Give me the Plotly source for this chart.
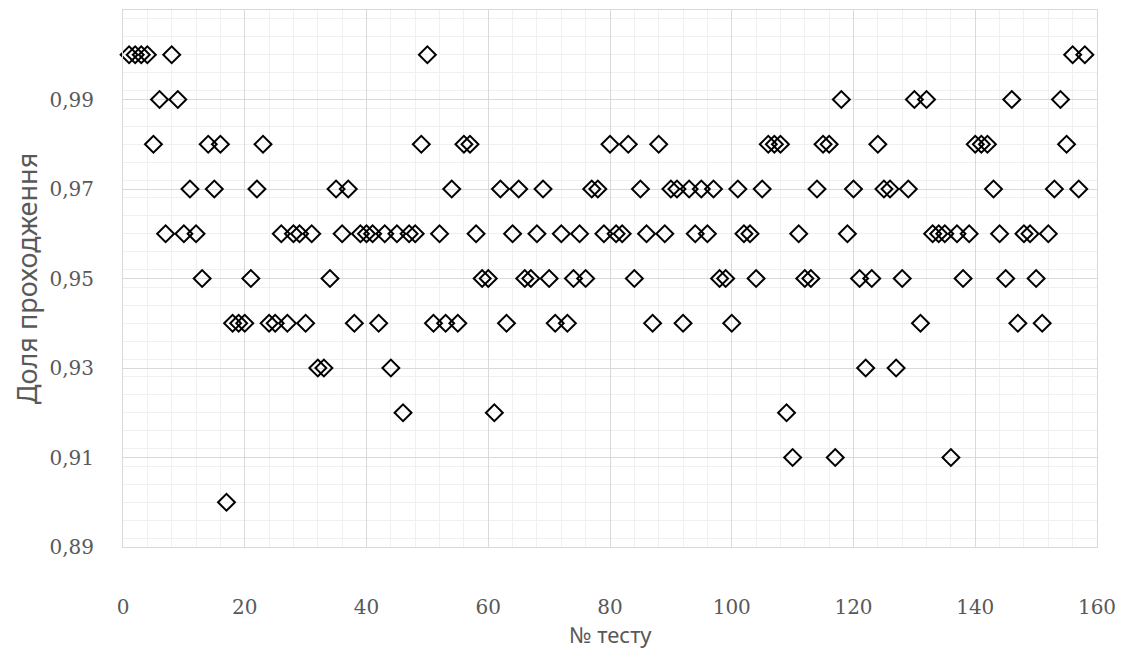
import plotly.graph_objects as go

# Test numbers
test_no = list(range(1, 159))

# Pass share per test
pass_share = [
    1.00, 1.00, 1.00, 1.00, 0.98, 0.99, 0.96, 1.00, 0.99, 0.96,   # 1-10
    0.97, 0.96, 0.95, 0.98, 0.97, 0.98, 0.90, 0.94, 0.94, 0.94,   # 11-20
    0.95, 0.97, 0.98, 0.94, 0.94, 0.96, 0.94, 0.96, 0.96, 0.94,   # 21-30
    0.96, 0.93, 0.93, 0.95, 0.97, 0.96, 0.97, 0.94, 0.96, 0.96,   # 31-40
    0.96, 0.94, 0.96, 0.93, 0.96, 0.92, 0.96, 0.96, 0.98, 1.00,   # 41-50
    0.94, 0.96, 0.94, 0.97, 0.94, 0.98, 0.98, 0.96, 0.95, 0.95,   # 51-60
    0.92, 0.97, 0.94, 0.96, 0.97, 0.95, 0.95, 0.96, 0.97, 0.95,   # 61-70
    0.94, 0.96, 0.94, 0.95, 0.96, 0.95, 0.97, 0.97, 0.96, 0.98,   # 71-80
    0.96, 0.96, 0.98, 0.95, 0.97, 0.96, 0.94, 0.98, 0.96, 0.97,   # 81-90
    0.97, 0.94, 0.97, 0.96, 0.97, 0.96, 0.97, 0.95, 0.95, 0.94,   # 91-100
    0.97, 0.96, 0.96, 0.95, 0.97, 0.98, 0.98, 0.98, 0.92, 0.91,   # 101-110
    0.96, 0.95, 0.95, 0.97, 0.98, 0.98, 0.91, 0.99, 0.96, 0.97,   # 111-120
    0.95, 0.93, 0.95, 0.98, 0.97, 0.97, 0.93, 0.95, 0.97, 0.99,   # 121-130
    0.94, 0.99, 0.96, 0.96, 0.96, 0.91, 0.96, 0.95, 0.96, 0.98,   # 131-140
    0.98, 0.98, 0.97, 0.96, 0.95, 0.99, 0.94, 0.96, 0.96, 0.95,   # 141-150
    0.94, 0.96, 0.97, 0.99, 0.98, 1.00, 0.97, 1.00,               # 151-158
]

x_title = "№ тесту"
y_title = "Доля проходження"

grey = "#595959"

fig = go.Figure()
fig.add_trace(go.Scatter(
    x=test_no,
    y=pass_share,
    mode="markers",
    marker=dict(symbol="diamond-open", size=13, color="black",
                line=dict(width=2, color="black")),
    showlegend=False,
    cliponaxis=False,
))

fig.update_layout(
    width=1121,
    height=642,
    margin=dict(l=115, r=32, t=2, b=103, autoexpand=False),
    paper_bgcolor="white",
    plot_bgcolor="white",
    separators=",.",
    font=dict(family="DejaVu Serif", color=grey),
)

# x-axis title placed as an annotation below the tick labels
fig.add_annotation(
    text=x_title, xref="paper", yref="paper", x=0.5, y=0,
    xanchor="center", yanchor="middle", yshift=-87, showarrow=False,
    font=dict(family="Noto Sans", size=22, color=grey),
)

fig.update_xaxes(
    range=[0, 160],
    tick0=0, dtick=20,
    tickfont=dict(family="DejaVu Serif", size=20, color=grey),
    showgrid=True, gridcolor="#d9d9d9", gridwidth=1,
    minor=dict(dtick=4, showgrid=True, gridcolor="#f0f0f0", gridwidth=1),
    showline=True, linecolor="#d9d9d9", linewidth=1, mirror=True,
    zeroline=False,
    ticks="",
    ticklabelstandoff=42,
    automargin=False,
)

fig.update_yaxes(
    range=[0.89, 1.01],
    tick0=0.89, dtick=0.02,
    tickformat=".2f",
    tickfont=dict(family="DejaVu Serif", size=20, color=grey),
    showgrid=True, gridcolor="#d9d9d9", gridwidth=1,
    minor=dict(dtick=0.004, showgrid=True, gridcolor="#f0f0f0", gridwidth=1),
    showline=True, linecolor="#d9d9d9", linewidth=1, mirror=True,
    zeroline=False,
    ticks="",
    ticklabelstandoff=24,
    automargin=False,
    title=dict(text=y_title, font=dict(family="Noto Sans", size=27, color=grey), standoff=6),
)

fig.write_html("out.html")
